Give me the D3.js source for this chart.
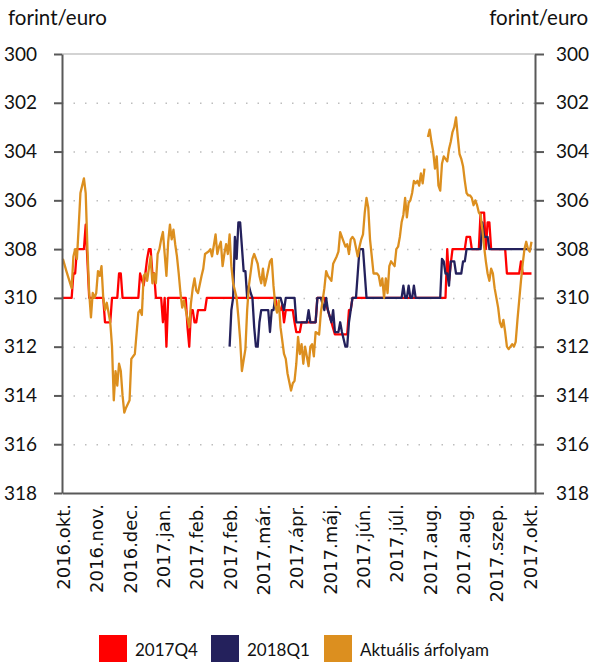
<!DOCTYPE html>
<html>
<head>
<meta charset="utf-8">
<script src="https://cdn.jsdelivr.net/npm/d3@7"></script>
<style>
  body { margin: 0; background: #fff; }
  svg { display: block; }
  .tick-lbl { font-family: Lato, "Open Sans", sans-serif; font-size: 19px; fill: #111; }
  .unit-lbl { font-family: Lato, "Open Sans", sans-serif; font-size: 20.5px; fill: #111; }
</style>
</head>
<body>
<svg id="chart" width="590" height="663"></svg>
<script>
// ---- data (trading day index, forint/euro) ----
const xLabels = ["2016.okt.", "2016.nov.", "2016.dec.", "2017.jan.", "2017.feb.", "2017.feb.",
  "2017.már.", "2017.ápr.", "2017.máj.", "2017.jún.", "2017.júl.", "2017.aug.", "2017.aug.",
  "2017.szep.", "2017.okt."];
const labelStep = 19;
const yTicks = [300, 302, 304, 306, 308, 310, 312, 314, 316, 318];

const q4 = [[0,310],[5,310],[6,309],[7,309],[8,308],[12,308],[13,307],[15,310],[23,310],[24,311],
  [27,311],[28,310],[31,310],[32,309],[33,309],[34,310],[43,310],[44,309],[46,309.5],[47,309],
  [48,308.4],[49,308],[50,308],[51,309],[52,309],[53,310],[56,310],[57,311],[58,310],[59,312],
  [60,310],[70,310],[71,311.2],[72,312],[73,310.5],[74,310.5],[75,311],[76,311],[77,310.5],
  [81,310.5],[82,310],[121,310],[122,310.4],[124,310.5],[125,310.3],[126,311],[127,310.5],
  [131,310.5],[132,311],[133,311.4],[135,311.4],[136,311],[144,311],[145,310],[149,310],
  [150,310.3],[151,310.5],[153,311],[155,311.5],[162,311.5],[163,310.5],[164,310.5],[165,310],
  [218,310],[219,308],[220,309.3],[221,308.6],[222,308],[229,308],[230,307.5],[232,307.5],
  [233,308],[237,308],[238,306.5],[240,306.5],[241,308],[242,306.9],[243,306.9],[244,308],
  [252,308],[253,309],[260,309],[261,308.5],[262,309],[267,309]];

const q1 = [[95,312],[96,310.5],[97,310],[98,307.5],[99,308.4],[100,306.9],[101,306.9],[102,307.9],
  [103,308.9],[104,308.9],[105,310],[106,309.5],[107,309.8],[108,310],[109,311.2],[110,312],
  [111,312],[112,311],[113,310.5],[117,310.5],[118,311.4],[119,310.5],[120,310.5],[121,310],
  [124,310],[126,310.5],[127,310],[132,310],[133,311],[139,311],[140,310.5],[141,311],[144,311],
  [145,310],[147,310],[149,310.5],[150,310],[151,310.5],[153,311],[154,310.5],[155,311.4],
  [157,311.4],[158,311],[159,311.4],[161,312],[162,312],[163,311],[164,310.5],[165,310],
  [167,310],[168,309],[169,308],[171,308],[172,309],[173,310],[193,310],[194,309.5],[195,310],
  [196,310],[197,309.5],[198,310],[199,310],[200,309.5],[201,310],[215,310],[216,308.4],
  [217,308.5],[218,309],[219,309],[220,309.5],[221,308.5],[223,308.5],[224,309],[227,309],
  [228,308.5],[229,308.5],[230,308],[238,308],[239,306.9],[240,307.5],[242,307.5],[243,308],
  [267,308]];

const spot = [[0,308.4],[2,308.9],[5,309.6],[6,308.3],[7,308.0],[8,308.4],[9,307.1],[10,305.7],
  [12,305.1],[13,305.7],[14,308.0],[15,309.8],[16,310.8],[17,309.8],[18,310.0],[19,309.8],
  [20,308.9],[21,309.1],[22,308.7],[23,310.0],[24,310.5],[25,310.2],[27,311.0],[28,312.0],
  [29,314.2],[30,313.0],[31,313.6],[32,312.7],[33,313.0],[34,314.0],[35,314.7],[36,314.5],
  [38,314.2],[39,312.5],[41,312.3],[43,310.6],[44,310.5],[45,310.7],[46,309.1],[47,309.0],
  [48,309.3],[50,308.3],[51,309.4],[52,309.0],[53,309.4],[54,308.2],[55,308.0],[56,307.6],
  [57,307.3],[58,308.2],[59,309.1],[60,307.7],[61,307.0],[62,307.6],[63,307.2],[64,307.8],
  [65,308.3],[66,309.0],[67,309.8],[68,310.4],[69,310.1],[70,310.5],[72,311.2],[73,310.2],
  [74,309.6],[75,309.2],[76,309.7],[77,309.8],[79,309.1],[80,308.8],[81,308.2],[83,308.1],
  [84,308.0],[85,308.3],[87,307.4],[88,308.2],[89,307.9],[90,307.7],[91,308.7],[92,308.2],
  [93,307.8],[94,308.2],[95,307.4],[96,308.7],[97,309.4],[99,310.0],[100,310.8],[101,311.7],
  [102,313.0],[104,312.1],[105,310.5],[106,309.5],[108,308.4],[109,308.2],[111,308.6],
  [112,309.1],[113,309.4],[114,308.8],[115,309.5],[116,309.2],[118,308.5],[119,308.4],
  [120,309.5],[121,310.3],[122,310.6],[123,310.1],[124,311.2],[126,312.3],[127,312.5],
  [128,313.1],[130,313.8],[131,313.5],[132,313.4],[133,312.7],[134,311.6],[135,312.3],
  [136,311.9],[137,312.7],[138,312.0],[140,312.8],[141,312.0],[142,311.9],[143,312.4],
  [144,311.4],[146,311.5],[147,310.6],[148,310.1],[149,309.6],[150,308.9],[151,309.1],
  [153,309.3],[154,308.6],[156,308.3],[157,308.1],[158,307.3],[160,307.7],[161,307.9],
  [162,307.8],[163,308.2],[164,307.6],[165,307.5],[166,307.6],[168,308.3],[169,307.9],
  [170,307.6],[171,307.4],[172,306.5],[173,305.9],[174,306.3],[175,307.6],[176,308.3],
  [177,309.0],[179,309.0],[180,309.1],[181,309.5],[182,309.2],[183,310.0],[184,309.2],
  [185,309.8],[186,308.7],[187,308.5],[189,308.7],[190,308.0],[191,307.9],[192,307.5],
  [193,306.9],[194,306.6],[195,305.9],[196,306.7],[197,306.1],[198,306.0],[199,305.7],
  [200,305.2],[201,305.3],[202,305.2],[203,305.4],[204,304.9],[205,305.3],[206,304.7],
  [207,null],[208,303.4],[209,303.1],[210,303.6],[211,304.0],[212,304.7],[213,304.2],
  [214,305.4],[215,305.6],[216,304.5],[217,304.2],[218,304.3],[219,304.4],[220,303.9],
  [221,303.6],[222,303.2],[223,303.0],[224,302.6],[225,303.4],[226,304.1],[227,304.3],
  [228,304.6],[229,305.2],[230,305.7],[231,305.8],[232,305.8],[233,305.9],[234,306.2],
  [235,306.0],[236,306.2],[237,306.5],[238,306.6],[239,307.2],[240,307.9],[241,308.5],
  [242,309.0],[243,309.3],[244,308.8],[245,309.0],[246,309.6],[247,310.0],[248,310.4],
  [249,311.0],[250,311.2],[251,310.9],[252,311.4],[253,312.0],[254,312.1],[255,312.0],
  [256,311.9],[257,312.0],[258,311.8],[259,310.9],[260,310.1],[261,309.3],[262,308.6],
  [263,308.0],[264,307.7],[265,308.0],[266,308.1],[267,307.7]];

const seriesNames = ["2017Q4", "2018Q1", "Aktuális árfolyam"];
const seriesColors = ["#ff0000", "#24215c", "#dc8f1f"];

// ---- layout ----
const svg = d3.select("#chart");
const plotL = 62, plotR = 535, plotT = 54, plotB = 493;

const x = d3.scaleLinear().domain([-0.5, 269]).range([plotL, plotR]);
const y = d3.scaleLinear().domain([300, 318]).range([plotT, plotB]);

// gridlines
svg.append("g")
  .attr("transform", `translate(${plotL},0)`)
  .call(d3.axisLeft(y).tickValues(yTicks.slice(1, -1)).tickSize(-(plotR - plotL)).tickFormat(""))
  .call(g => g.select(".domain").remove())
  .call(g => g.selectAll("line")
    .attr("stroke", "#bdbdbd").attr("stroke-width", 1.5).attr("stroke-dasharray", "1.5,10"));

svg.append("line")
  .attr("x1", plotL).attr("x2", plotR).attr("y1", y(300)).attr("y2", y(300))
  .attr("stroke", "#c4c4c4").attr("stroke-width", 1.5);

// lines
const line = d3.line()
  .defined(d => d[1] !== null)
  .x(d => x(d[0]))
  .y(d => y(d[1]));

[q4, q1, spot].forEach((s, i) => {
  svg.append("path")
    .datum(s)
    .attr("fill", "none")
    .attr("stroke", seriesColors[i])
    .attr("stroke-width", 2.3)
    .attr("stroke-linejoin", "round")
    .attr("d", line);
});

// axes
function styleAxis(g) {
  g.select(".domain").attr("stroke", "#595959").attr("stroke-width", 2);
  g.selectAll(".tick line").attr("stroke", "#595959").attr("stroke-width", 2);
  g.selectAll(".tick text").attr("class", "tick-lbl").attr("fill", "#111");
}

svg.append("g")
  .attr("transform", `translate(${plotL},0)`)
  .call(d3.axisLeft(y).tickValues(yTicks).tickSize(8).tickSizeOuter(0).tickPadding(17))
  .call(styleAxis);

svg.append("g")
  .attr("transform", `translate(${plotR},0)`)
  .call(d3.axisRight(y).tickValues(yTicks).tickSize(9).tickSizeOuter(0).tickPadding(12))
  .call(styleAxis);

const xAxis = svg.append("g")
  .attr("transform", `translate(0,${plotB})`)
  .call(d3.axisBottom(x)
    .tickValues(xLabels.map((_, i) => i * labelStep))
    .tickFormat((d, i) => xLabels[i])
    .tickSize(0).tickSizeOuter(0));
xAxis.select(".domain").attr("stroke", "#595959").attr("stroke-width", 2);
xAxis.selectAll(".tick text")
  .attr("font-family", "'DejaVu Sans', sans-serif")
  .attr("font-size", 18)
  .attr("fill", "#111")
  .attr("transform", "rotate(-90)")
  .attr("text-anchor", "end")
  .attr("x", -11)
  .attr("y", 0)
  .attr("dy", "0.36em");

// unit labels
svg.append("text").attr("class", "unit-lbl").attr("x", 8).attr("y", 25).text("forint/euro");
svg.append("text").attr("class", "unit-lbl").attr("x", 588).attr("y", 25)
  .attr("text-anchor", "end").text("forint/euro");

// legend
const legendX = [99, 211, 324];
const legend = svg.append("g");
seriesNames.forEach((name, i) => {
  legend.append("rect")
    .attr("x", legendX[i]).attr("y", 635)
    .attr("width", 28).attr("height", 27)
    .attr("fill", seriesColors[i]);
  legend.append("text")
    .attr("x", legendX[i] + 36).attr("y", 656)
    .attr("font-family", "Lato, sans-serif").attr("font-size", 17)
    .attr("fill", "#111")
    .text(name);
});
</script>
</body>
</html>
